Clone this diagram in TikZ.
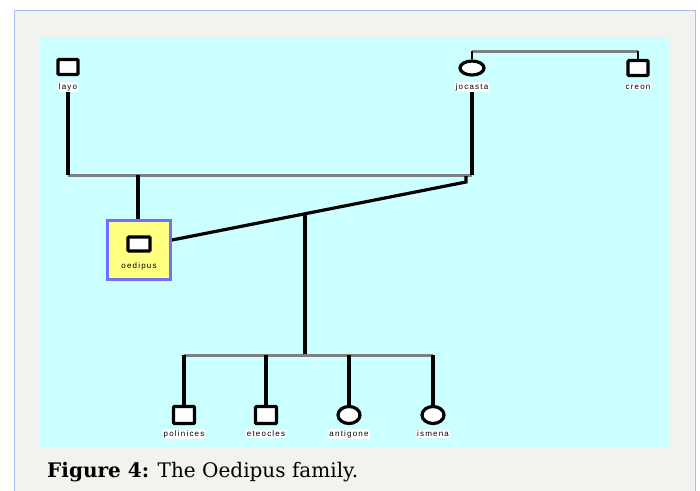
\documentclass[tikz,border=0pt]{standalone}
\usepackage{fontspec}
\usetikzlibrary{shapes.geometric}
\newfontfamily\labfont[LetterSpace=15]{Liberation Sans}
\newfontfamily\capfont{DejaVu Serif}
\definecolor{panelgray}{HTML}{F2F2EE}
\definecolor{panelborder}{HTML}{A8BEE8}
\definecolor{bgcyan}{HTML}{CCFFFF}
\definecolor{linegray}{HTML}{808080}
\definecolor{oedfill}{HTML}{FFFF80}
\definecolor{oedborder}{HTML}{7070FF}
\begin{document}
\begin{tikzpicture}[x=1pt,y=-1pt,
  male/.style={rectangle,draw=black,fill=white,line width=3.2pt,rounded corners=1pt,minimum width=20pt,minimum height=15pt,inner sep=0pt},
  malebig/.style={male,minimum width=21pt,minimum height=17pt},
  female/.style={ellipse,draw=black,fill=white,line width=3.2pt,minimum width=24pt,minimum height=14pt,inner sep=0pt},
  femalebig/.style={female,minimum width=22pt,minimum height=17pt},
  lab/.style={fill=white,inner sep=1pt,font=\labfont\fontsize{8}{9}\selectfont,text=black},
  kin/.style={draw=black,line width=3.2pt},
  marr/.style={draw=linegray,line width=3pt}]
\useasboundingbox (0,0) rectangle (700,490);
\fill[white] (0,0) rectangle (700,490);
\begin{scope}
\clip (0,0) rectangle (700,490);
\filldraw[fill=panelgray,draw=panelborder,line width=1pt] (14,10) rectangle (695,500);
\end{scope}
\fill[bgcyan] (39,37) rectangle (670,448);
\draw[draw=yellow!40!white,line width=0.8pt] (39,37.4) -- (670,37.4);
% people
\node[male] (layo) at (68,67) {};
\node[lab] (layol) at (68,87) {layo};
\node[female] (jocasta) at (472,68) {};
\node[lab] (jocastal) at (472,87) {jocasta};
\node[male] (creon) at (638,68) {};
\node[lab] (creonl) at (638,87) {creon};
\node[rectangle,draw=oedborder,fill=oedfill,line width=3pt,minimum width=63pt,minimum height=59pt,inner sep=0pt] (oedbox) at (139,250) {};
\node[male,minimum width=22pt,minimum height=14pt] (oedipus) at (139,244) {};
\node[inner sep=0pt,font=\labfont\fontsize{8}{9}\selectfont] (oedipusl) at (139,266) {oedipus};
\node[malebig] (polinices) at (184,415) {};
\node[lab] (policesl) at (184,434) {polinices};
\node[malebig] (eteocles) at (266,415) {};
\node[lab] (eteoclesl) at (266,434) {eteocles};
\node[femalebig] (antigone) at (349,415) {};
\node[lab] (antigonel) at (349,434) {antigone};
\node[femalebig] (ismena) at (433,415) {};
\node[lab] (ismenal) at (433,434) {ismena};
% junction coordinates
\coordinate (mL) at (68,175);
\coordinate (mR) at (472,175);
\coordinate (mO) at (138,175);
\coordinate (dStart) at (466,176);
\coordinate (dBend) at (466,182);
\coordinate (dMid) at (305,213.8);
\coordinate (sib) at (305,355);
\coordinate (sL) at (184,355);
\coordinate (sR) at (433,355);
\coordinate (jTop) at (472,51);
\coordinate (cTop) at (638,51);
% connectors
\draw[marr] (mL) -- (mR);
\draw[kin] (layol.south) -- (mL);
\draw[kin] (jocastal.south) -- (mR);
\draw[kin] (mO) -- (oedbox.north -| mO);
\draw[kin] (dStart) -- (dBend) -- (oedbox.east |- 0,240);
\draw[kin] (dMid) -- (sib);
\draw[marr] (sL) -- (sR);
\foreach \c in {polinices,eteocles,antigone,ismena}
  \draw[kin] (\c.north) -- (\c.north |- sib);
\draw[marr] (jTop) -- (cTop);
\draw[kin,line width=2pt] (jocasta.north) -- (jTop);
\draw[kin,line width=2pt] (creon.north) -- (cTop);
% caption
\node[anchor=base west,inner sep=0pt] (caption) at (47,477)
  {\resizebox{311pt}{!}{\capfont\fontsize{14}{16}\selectfont\textbf{Figure 4:} The Oedipus family.}};
\end{tikzpicture}
\end{document}
